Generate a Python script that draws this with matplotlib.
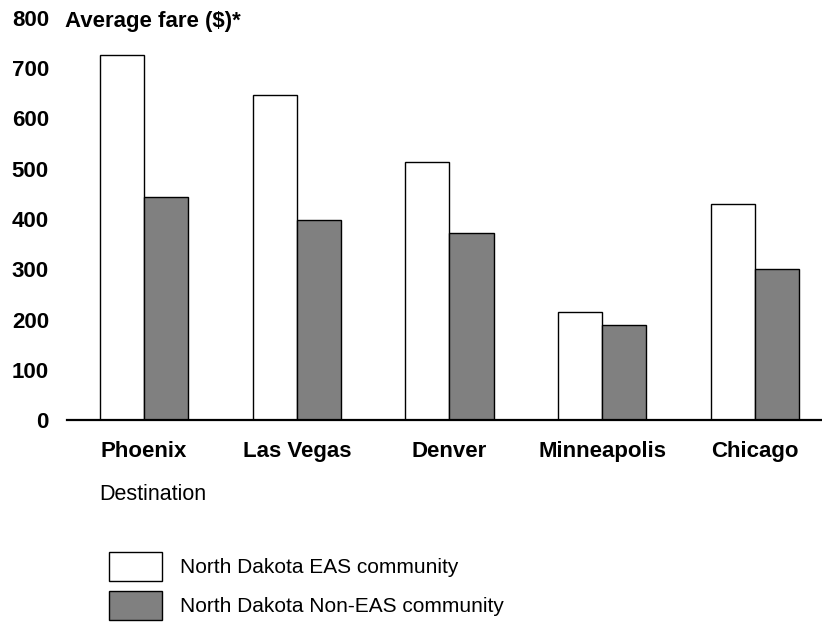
import matplotlib.pyplot as plt
import numpy as np

# average fares by destination
destinations = ["Phoenix", "Las Vegas", "Denver", "Minneapolis", "Chicago"]
eas_fares = [726, 647, 514, 215, 429]
non_eas_fares = [443, 398, 373, 189, 301]
y_ticks = [0, 100, 200, 300, 400, 500, 600, 700, 800]

plt.rcParams["font.family"] = ["Liberation Sans", "DejaVu Sans"]

fig = plt.figure(figsize=(8.22, 6.23), dpi=100)
ax = fig.add_axes([67 / 822, 1 - 420 / 623, 1 - 67 / 822, (420 - 18) / 623])

x = np.arange(len(destinations))
w = 0.29
ax.bar(x - w / 2, eas_fares, w, color="white", edgecolor="black", linewidth=1,
       label="North Dakota EAS community")
ax.bar(x + w / 2, non_eas_fares, w, color="#808080", edgecolor="black", linewidth=1,
       label="North Dakota Non-EAS community")

ax.set_xlim(-0.505, 4.44)
ax.set_ylim(0, 800)
ax.set_yticks(y_ticks)
ax.set_yticklabels([str(v) for v in y_ticks], fontsize=16, fontweight="bold")
ax.set_xticks(x)
ax.set_xticklabels(destinations, fontsize=16, fontweight="bold")
ax.tick_params(axis="y", length=0, pad=13)
ax.tick_params(axis="x", length=0, pad=15)

for s in ["top", "right", "left"]:
    ax.spines[s].set_visible(False)
ax.spines["bottom"].set_linewidth(1.6)

fig.text(65 / 822, 1 - 21 / 623, "Average fare ($)*", fontsize=16, fontweight="bold",
         ha="left", va="center")
fig.text(99 / 822, 1 - 494 / 623, "Destination", fontsize=15.5, ha="left", va="center")

fig.legend(loc="upper left", bbox_to_anchor=(109 / 822, 1 - 551.7 / 623),
           frameon=False, fontsize=15, borderpad=0, borderaxespad=0,
           handlelength=2.55, handleheight=1.75, handletextpad=0.85, labelspacing=0.5)

fig.savefig("out.png", dpi=100)
